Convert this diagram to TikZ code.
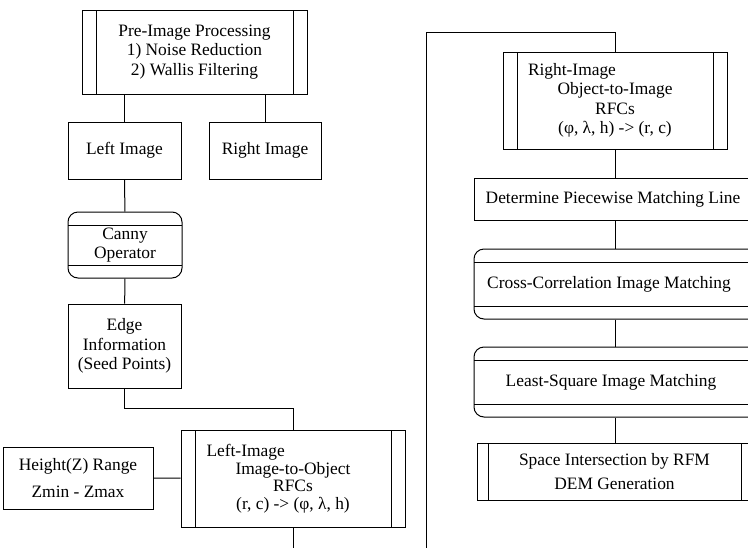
\documentclass[tikz,border=0pt]{standalone}
\usepackage{fontspec}
\setmainfont{Liberation Serif}

\tikzset{
  box/.style={draw, align=center, inner sep=0pt,
    font=\fontsize{17.4}{19.5}\selectfont},
  predef/.style={box, path picture={
    \draw[line width=1pt]
      ([xshift=#1]path picture bounding box.north west) -- ([xshift=#1]path picture bounding box.south west)
      ([xshift=-#1]path picture bounding box.north east) -- ([xshift=-#1]path picture bounding box.south east);}},
  predef/.default=14pt,
  roundbox/.style={box, rounded corners=10pt, path picture={
    \draw[line width=1pt, sharp corners]
      ([yshift=-#1]path picture bounding box.north west) -- ([yshift=-#1]path picture bounding box.north east)
      ([yshift=#1]path picture bounding box.south west) -- ([yshift=#1]path picture bounding box.south east);}},
  roundbox/.default=13pt
}

\begin{document}
\begin{tikzpicture}[x=1pt, y=-1pt, line width=1pt]

  \useasboundingbox (0,0) rectangle (748,547);
  \clip (0,0) rectangle (748,547);

  % left column
  \node[predef, minimum width=225pt, minimum height=84pt] (pre) at (194.5,52)
    {Pre-Image Processing\\1) Noise Reduction\\2) Wallis Filtering};
  \node[box, minimum width=113pt, minimum height=57pt] (limg) at (124.5,150.5) {Left Image};
  \node[box, minimum width=112pt, minimum height=57pt] (rimg) at (265,150.5) {Right Image};
  \node[roundbox, minimum width=114pt, minimum height=66pt] (canny) at (125,245) {Canny\\Operator};
  \node[box, minimum width=113pt, minimum height=84pt] (edge) at (124.5,346)
    {Edge\\Information\\(Seed Points)};
  \node[box, minimum width=150pt, minimum height=62pt] (height) at (78,478)
    {Height(Z) Range\\[8pt]Zmin - Zmax};
  \node[predef, minimum width=224pt, minimum height=97pt] (lobj) at (293,478.5)
    {\makebox[117pt][l]{\hspace*{-28pt}Left-Image}\\[-2pt]Image-to-Object\\[-2pt]RFCs\\[-2pt](r, c) -> (φ, λ, h)};

  % right column, cut off at the right edge
  \node[predef, minimum width=224pt, minimum height=97pt] (robj) at (615,100.5)
    {\makebox[118pt][l]{\hspace*{-28pt}Right-Image}\\Object-to-Image\\RFCs\\(φ, λ, h) -> (r, c)};
  \node[box, minimum width=288pt, minimum height=42pt] (match) at (618,199)
    {\hspace*{-10pt}Determine Piecewise Matching Line};
  \node[roundbox, minimum width=288pt, minimum height=70pt] (ccm) at (618,284)
    {\hspace*{-18pt}Cross-Correlation Image Matching};
  \node[roundbox, minimum width=288pt, minimum height=70pt] (lsm) at (618,382)
    {\hspace*{-14pt}Least-Square Image Matching};
  \node[predef=11pt, minimum width=275pt, minimum height=57pt] (space) at (614.5,471.5)
    {Space Intersection by RFM\\[4pt]DEM Generation};

  \coordinate (low) at (426,560);
  \coordinate (high) at (426,32);

  \draw (limg.north) -- (limg.north |- pre.south);
  \draw (rimg.north) -- (rimg.north |- pre.south);
  \draw (limg) -- (canny);
  \draw (canny) -- (edge);
  \draw (edge.south) -- ++(0,20) -| (lobj.north);
  \draw (height) -- (lobj);
  \draw (lobj.south) |- (low) -- (high) -| (robj.north);

  \draw (robj.south) -- (robj.south |- match.north);
  \draw (robj.south |- match.south) -- (robj.south |- ccm.north);
  \draw (robj.south |- ccm.south) -- (robj.south |- lsm.north);
  \draw (robj.south |- lsm.south) -- (robj.south |- space.north);

\end{tikzpicture}
\end{document}
